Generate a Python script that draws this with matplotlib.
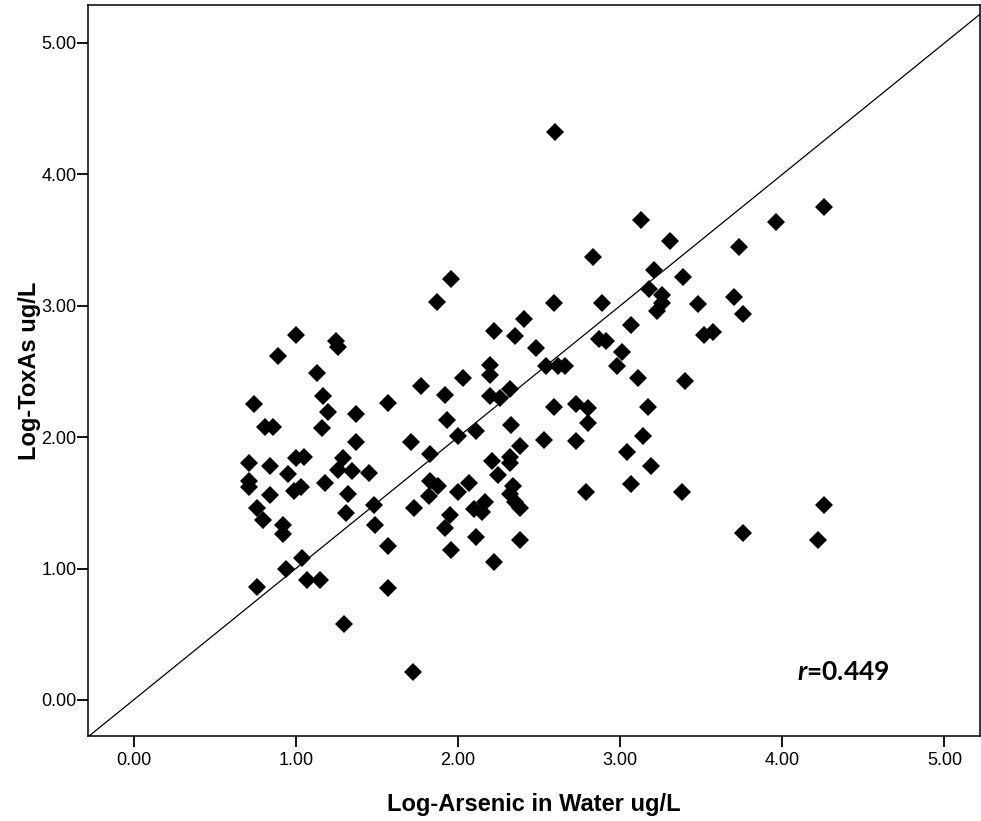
import numpy as np
import matplotlib
matplotlib.use("Agg")
import matplotlib.pyplot as plt

plt.rcParams['font.family'] = ['Liberation Sans', 'DejaVu Sans']
plt.rcParams['mathtext.fontset'] = 'custom'
plt.rcParams['mathtext.it'] = 'Lato:italic:bold'
plt.rcParams['mathtext.rm'] = 'Lato:bold'

# Log-Arsenic in water (x) vs Log-ToxAs (y)
log_water = [0.71, 0.71, 0.71, 0.74, 0.76, 0.76, 0.80, 0.81, 0.84, 0.84,
             0.86, 0.89, 0.92, 0.92, 0.94, 0.95, 0.99, 1.00, 1.00, 1.03,
             1.04, 1.05, 1.07, 1.13, 1.15, 1.16, 1.17, 1.18, 1.20, 1.25,
             1.26, 1.26, 1.29, 1.30, 1.31, 1.32, 1.35, 1.37, 1.37, 1.45,
             1.48, 1.49, 1.57, 1.57, 1.57, 1.71, 1.72, 1.73, 1.77, 1.82,
             1.83, 1.83, 1.87, 1.88, 1.92, 1.92, 1.93, 1.95, 1.96, 1.96,
             2.00, 2.00, 2.03, 2.07, 2.10, 2.11, 2.11, 2.15, 2.17, 2.20,
             2.20, 2.20, 2.21, 2.22, 2.22, 2.25, 2.26, 2.32, 2.32, 2.32,
             2.33, 2.32, 2.34, 2.35, 2.35, 2.38, 2.38, 2.38, 2.41, 2.48,
             2.53, 2.54, 2.59, 2.59, 2.60, 2.62, 2.66, 2.73, 2.73, 2.79,
             2.80, 2.80, 2.83, 2.87, 2.89, 2.91, 2.98, 3.01, 3.04, 3.07,
             3.07, 3.11, 3.13, 3.14, 3.17, 3.18, 3.19, 3.21, 3.23, 3.26,
             3.26, 3.31, 3.38, 3.39, 3.40, 3.48, 3.52, 3.57, 3.70, 3.73,
             3.76, 3.76, 3.96, 4.22, 4.26, 4.26]
log_toxas = [1.80, 1.67, 1.62, 2.25, 1.46, 0.86, 1.37, 2.08, 1.78, 1.56,
             2.08, 2.62, 1.33, 1.26, 1.00, 1.72, 1.59, 1.84, 2.78, 1.62,
             1.08, 1.85, 0.91, 2.49, 0.91, 2.07, 2.31, 1.65, 2.19, 2.73,
             2.69, 1.75, 1.84, 0.58, 1.42, 1.57, 1.74, 2.18, 1.96, 1.73,
             1.48, 1.33, 2.26, 1.17, 0.85, 1.96, 0.21, 1.46, 2.39, 1.55,
             1.67, 1.87, 3.03, 1.63, 2.32, 1.31, 2.13, 1.41, 3.20, 1.14,
             2.01, 1.58, 2.45, 1.65, 1.45, 1.24, 2.05, 1.43, 1.51, 2.31,
             2.55, 2.47, 1.82, 2.81, 1.05, 1.71, 2.30, 1.85, 1.80, 2.37,
             2.09, 1.57, 1.63, 1.51, 2.77, 1.93, 1.46, 1.22, 2.90, 2.68,
             1.98, 2.54, 2.23, 3.02, 4.32, 2.54, 2.54, 1.97, 2.25, 1.58,
             2.22, 2.11, 3.37, 2.75, 3.02, 2.73, 2.54, 2.65, 1.89, 1.64,
             2.85, 2.45, 3.65, 2.01, 2.23, 3.13, 1.78, 3.27, 2.96, 3.08,
             3.02, 3.49, 1.58, 3.22, 2.43, 3.01, 2.78, 2.80, 3.07, 3.45,
             2.94, 1.27, 3.64, 1.22, 3.75, 1.48]

ticks = [0, 1, 2, 3, 4, 5]
tick_labels = ['0.00', '1.00', '2.00', '3.00', '4.00', '5.00']
r_value = 0.449

fig = plt.figure(figsize=(9.81, 8.21), dpi=100)
ax = fig.add_axes([0.090, 0.1039, 0.909, 0.890])

ax.plot(log_water, log_toxas, linestyle='none', marker='D', ms=8.8,
        color='black', mew=0)
# reference line y = x
ax.axline((0, 0), slope=1, color='black', lw=0.9)

ax.set_xlim(-0.279, 5.219)
ax.set_ylim(-0.272, 5.289)
ax.set_xticks(ticks)
ax.set_xticklabels(tick_labels)
ax.set_yticks(ticks)
ax.set_yticklabels(tick_labels)
ax.tick_params(axis='both', length=8, width=1.3, labelsize=13, color='black')
ax.tick_params(axis='x', pad=4)
ax.tick_params(axis='y', pad=0.5)
for sp in ax.spines.values():
    sp.set_linewidth(1.1)

ax.set_xlabel('Log-Arsenic in Water ug/L', fontsize=17, fontweight='bold',
              labelpad=17)
ax.set_ylabel('Log-ToxAs ug/L', fontsize=17, fontweight='bold', labelpad=0)

ax.text(4.09, 0.21, r'$\it{r}$=%.3f' % r_value, fontsize=19,
        fontweight='bold', family='Lato', va='center', ha='left')

fig.savefig('out.png', dpi=100)
